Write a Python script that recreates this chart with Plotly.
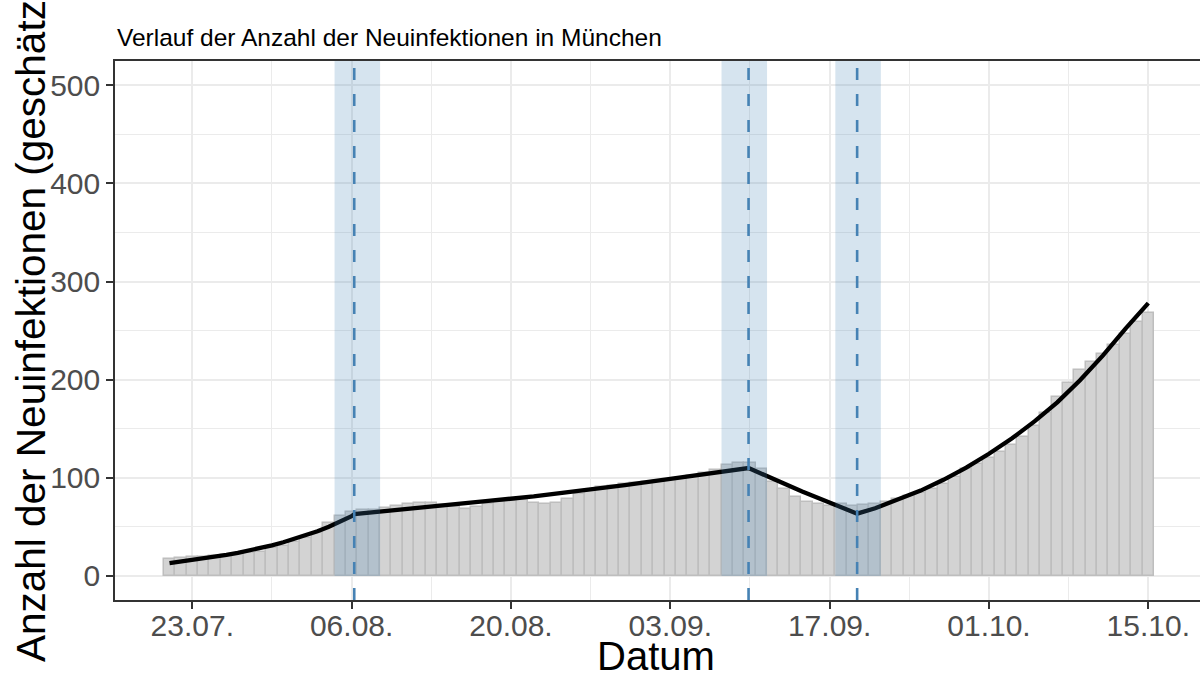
import pandas as pd
import plotly.graph_objects as go

# ---------------- data ----------------
bar_start = "2020-07-21"
bar_end = "2020-10-15"
cases = [17.5, 18.5, 19, 19.5, 20.5, 21, 22, 23, 24.5, 28,
         31, 35, 39, 44, 54, 61, 65, 67, 67, 69,
         71, 73.5, 74.5, 74, 72, 70, 68.5, 70.5, 73, 75,
         76.5, 77, 74.5, 73.5, 74.5, 78, 84, 87.5, 91, 92,
         94, 95, 95.5, 96.5, 98, 99.5, 102, 104.5, 108, 113,
         115.5, 115, 108.5, 96, 88.5, 80.5, 75.5, 73.5, 71, 73,
         71, 72, 73.5, 75.5, 78.5, 81, 85, 89, 94, 100.5,
         109, 114.5, 120.5, 126.7, 133.5, 142, 152.5, 166.5, 182.5, 197,
         209.5, 218, 226, 235, 247, 258.5, 267.5]

fit_dates = ["2020-07-21", "2020-07-22", "2020-07-23", "2020-07-24", "2020-07-25",
             "2020-07-26", "2020-07-27", "2020-07-28", "2020-07-29", "2020-07-30",
             "2020-07-31", "2020-08-01", "2020-08-02", "2020-08-03", "2020-08-04",
             "2020-08-05", "2020-08-06", "2020-08-06 05:30",
             "2020-08-10", "2020-08-14", "2020-08-18", "2020-08-22", "2020-08-26",
             "2020-08-30", "2020-09-03", "2020-09-07", "2020-09-09 21:00",
             "2020-09-14 14:00", "2020-09-19 10:00",
             "2020-09-21", "2020-09-23", "2020-09-25", "2020-09-27", "2020-09-29",
             "2020-10-01", "2020-10-03", "2020-10-05", "2020-10-07", "2020-10-09",
             "2020-10-11", "2020-10-13", "2020-10-15"]
fit_values = [13, 14.5, 16, 17.6, 19.4,
              21.4, 23.5, 25.8, 28.4, 31.2,
              34.3, 37.7, 41.5, 45.6, 50.2,
              55.3, 61, 63,
              67, 72, 76.5, 81, 86.5,
              92.5, 99, 105.5, 110,
              86, 63.5,
              69, 77.5, 87, 98, 110.5,
              124.5, 140, 157.5, 177, 199.5,
              224.5, 252, 278]

changepoints = ["2020-08-06 05:30", "2020-09-09 21:00", "2020-09-19 10:00"]
ci_lower = ["2020-08-04 12:00", "2020-09-07 12:00", "2020-09-17 12:00"]
ci_upper = ["2020-08-08 12:00", "2020-09-11 12:00", "2020-09-21 12:00"]

title_text = "Verlauf der Anzahl der Neuinfektionen in München"
x_title = "Datum"
y_title = "Anzahl der Neuinfektionen (geschätzt)"

X_RANGE = ["2020-07-16 05:00", "2020-10-19 13:00"]
Y_RANGE = [-24.5, 524.8]

# ---------------- figure ----------------
FONT = "Liberation Sans, Arial, Helvetica, sans-serif"
dates = [d.strftime("%Y-%m-%d") for d in pd.date_range(bar_start, bar_end, freq="D")]

fig = go.Figure()
fig.add_trace(go.Bar(
    x=dates, y=cases, width=86400000,
    marker=dict(color="#D3D3D3", line=dict(color="#BEBEBE", width=1.5)),
    hoverinfo="skip", showlegend=False,
))
fig.add_trace(go.Scatter(
    x=fit_dates, y=fit_values, mode="lines",
    line=dict(color="black", width=4.3), showlegend=False, hoverinfo="skip",
))

for lo, hi in zip(ci_lower, ci_upper):
    fig.add_shape(type="rect", xref="x", yref="y", x0=lo, x1=hi,
                  y0=0, y1=Y_RANGE[1], fillcolor="rgba(70,130,180,0.22)",
                  line=dict(width=0), layer="above")
for cp in changepoints:
    fig.add_shape(type="line", xref="x", yref="paper", x0=cp, x1=cp,
                  y0=0, y1=1, line=dict(color="#4682B4", width=2.6, dash="12px,14px"),
                  layer="above")

# plot title
fig.add_annotation(text=title_text, xref="paper", yref="paper", x=0, y=1,
                   xanchor="left", yanchor="bottom", yshift=8, xshift=0,
                   showarrow=False,
                   font=dict(family=FONT, size=24.5, color="black"))
# x axis title
fig.add_annotation(text=x_title, xref="paper", yref="paper", x=0.5, y=0,
                   xanchor="center", yanchor="top", yshift=-32, xshift=-2,
                   showarrow=False,
                   font=dict(family=FONT, size=40, color="black"))
# y axis title (rotated, runs past the top edge as in the original)
fig.add_annotation(text=y_title, xref="paper", yref="paper", x=0, y=0.5213,
                   xanchor="left", yanchor="middle", xshift=-109, textangle=-90,
                   showarrow=False,
                   font=dict(family=FONT, size=40.5, color="black"))

axis_common = dict(
    showline=True, linecolor="#333333", linewidth=1.5,
    ticks="outside", ticklen=7, tickcolor="#333333", tickwidth=1.5,
    tickfont=dict(family=FONT, size=30, color="#4D4D4D"),
    showgrid=True, gridcolor="#EBEBEB", gridwidth=1.8,
    zeroline=False, automargin=False,
)

fig.update_layout(
    width=1200, height=674,
    margin=dict(l=115, r=0, t=61, b=74, pad=0),
    paper_bgcolor="white", plot_bgcolor="white",
    bargap=0,
    font=dict(family=FONT),
    xaxis=dict(
        type="date", range=X_RANGE,
        tick0="2020-07-23", dtick=14 * 86400000, tickformat="%d.%m.",
        minor=dict(tick0="2020-07-23", dtick=7 * 86400000, showgrid=True,
                   gridcolor="#EBEBEB", gridwidth=0.9, ticks=""),
        mirror=True, ticklabelstandoff=-9,
        **axis_common,
    ),
    yaxis=dict(
        range=Y_RANGE, tick0=0, dtick=100,
        minor=dict(tick0=0, dtick=50, showgrid=True,
                   gridcolor="#EBEBEB", gridwidth=0.9, ticks=""),
        mirror=False,
        **axis_common,
    ),
)

fig.write_html("out.html")
